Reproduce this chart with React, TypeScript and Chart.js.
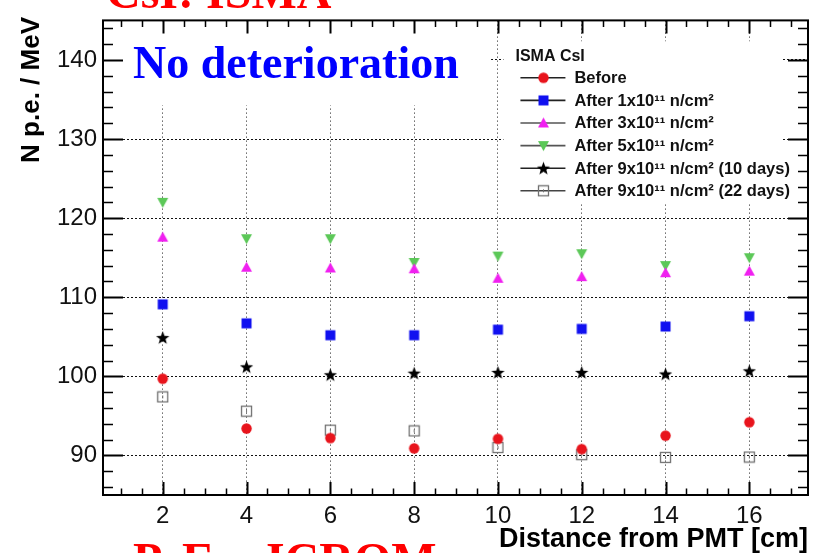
import React, { useEffect, useRef } from 'react';
import { Chart, registerables } from 'chart.js';

Chart.register(...registerables);

// ---- data ----
const distances = [2, 4, 6, 8, 10, 12, 14, 16];
const before = [99.7, 93.4, 92.2, 90.9, 92.1, 90.8, 92.5, 94.2];
const after1e11 = [109.1, 106.7, 105.2, 105.2, 105.9, 106.0, 106.3, 107.6];
const after3e11 = [117.6, 113.8, 113.7, 113.6, 112.4, 112.6, 113.1, 113.3];
const after5e11 = [122.0, 117.4, 117.4, 114.4, 115.2, 115.5, 114.0, 115.0];
const after9e11Day10 = [104.9, 101.2, 100.2, 100.4, 100.5, 100.5, 100.3, 100.7];
const after9e11Day22 = [97.4, 95.6, 93.2, 93.1, 91.0, 90.1, 89.75, 89.8];

const xTickValues = [2, 4, 6, 8, 10, 12, 14, 16];
const yTickValues = [90, 100, 110, 120, 130, 140];

const seriesLabels = [
  'Before',
  'After 1x10¹¹ n/cm²',
  'After 3x10¹¹ n/cm²',
  'After 5x10¹¹ n/cm²',
  'After 9x10¹¹ n/cm² (10 days)',
  'After 9x10¹¹ n/cm² (22 days)',
];
const seriesColors = ['#e8141c', '#1010f0', '#f020f0', '#5cc858', '#000000', '#707070'];
const seriesMarkers = ['circle', 'square', 'triangleUp', 'triangleDown', 'star', 'openSquare'];
const legendLineColors = ['#222222', '#222222', '#555555', '#555555', '#222222', '#444444'];

const legendTitle = 'ISMA CsI';
const xTitle = 'Distance from PMT [cm]';
const yTitle = 'N p.e. / MeV';
const noteText = 'No deterioration';
const topBanner = 'CsI: ISMA';
const bottomBanner = 'P. E. - ICROM';

const X_MIN = 0.574;
const X_MAX = 17.4;
const Y_MIN = 85;
const Y_MAX = 145;
const X_MAJOR = 2;
const X_MINOR = 0.5;
const Y_MAJOR = 10;
const Y_MINOR = 2;

const SANS = '"Liberation Sans", Arial, Helvetica, sans-serif';
const SERIF = '"Liberation Serif", "Times New Roman", serif';

function makeMarker(kind: string, color: string): HTMLCanvasElement {
  const size = kind === 'star' ? 15 : 13;
  const c = document.createElement('canvas');
  c.width = size;
  c.height = size;
  const ctx = c.getContext('2d')!;
  const cx = size / 2;
  const cy = size / 2;
  ctx.fillStyle = color;
  ctx.strokeStyle = color;
  ctx.beginPath();
  if (kind === 'circle') {
    ctx.arc(cx, cy, 5.2, 0, Math.PI * 2);
    ctx.fill();
  } else if (kind === 'square') {
    ctx.rect(cx - 5, cy - 5, 10, 10);
    ctx.fill();
  } else if (kind === 'triangleUp') {
    ctx.moveTo(cx, cy - 5.5);
    ctx.lineTo(cx + 5.5, cy + 4.5);
    ctx.lineTo(cx - 5.5, cy + 4.5);
    ctx.closePath();
    ctx.fill();
  } else if (kind === 'triangleDown') {
    ctx.moveTo(cx, cy + 5.5);
    ctx.lineTo(cx + 5.5, cy - 4.5);
    ctx.lineTo(cx - 5.5, cy - 4.5);
    ctx.closePath();
    ctx.fill();
  } else if (kind === 'star') {
    const R = 7;
    const r = R * 0.42;
    for (let i = 0; i < 10; i++) {
      const ang = -Math.PI / 2 + (i * Math.PI) / 5;
      const rad = i % 2 === 0 ? R : r;
      ctx.lineTo(cx + rad * Math.cos(ang), cy + 0.6 + rad * Math.sin(ang));
    }
    ctx.closePath();
    ctx.fill();
  } else if (kind === 'openSquare') {
    ctx.lineWidth = 1.3;
    ctx.strokeRect(cx - 5, cy - 5, 10, 10);
    ctx.beginPath();
    ctx.lineWidth = 1;
    ctx.moveTo(cx, cy - 1.5);
    ctx.lineTo(cx, cy + 1.5);
    ctx.stroke();
  }
  return c;
}

function legendBox(a: any) {
  return {
    x: a.left + (a.right - a.left) * 0.568,
    y: a.top + (a.bottom - a.top) * 0.044,
    w: (a.right - a.left) * 0.395,
    h: (a.bottom - a.top) * 0.34,
  };
}

const decorPlugin = {
  id: 'decor',
  beforeDatasetsDraw(chart: any) {
    const { ctx, chartArea: a, scales } = chart;
    const xs = scales.x;
    const ys = scales.y;
    ctx.save();
    ctx.fillStyle = '#ffffff';
    // white box behind the note text
    ctx.fillRect(a.left + 1, a.top + 1, (a.right - a.left) * 0.549, (a.bottom - a.top) * 0.177);
    // legend box
    const lb = legendBox(a);
    ctx.fillRect(lb.x, lb.y, lb.w, lb.h);

    // tick marks (inward, mirrored on all four sides)
    ctx.strokeStyle = '#000';
    const xMajLen = 13, xMinLen = 6.5, yMajLen = 20, yMinLen = 10;
    const first = Math.ceil(X_MIN / X_MINOR) * X_MINOR;
    for (let v = first; v <= X_MAX + 1e-9; v += X_MINOR) {
      const isMajor = Math.abs(v / X_MAJOR - Math.round(v / X_MAJOR)) < 1e-6;
      const len = isMajor ? xMajLen : xMinLen;
      const px = Math.round(xs.getPixelForValue(v)) + 0.5;
      ctx.lineWidth = isMajor ? 2 : 1.5;
      ctx.beginPath();
      ctx.moveTo(px, a.bottom);
      ctx.lineTo(px, a.bottom - len);
      ctx.moveTo(px, a.top);
      ctx.lineTo(px, a.top + len);
      ctx.stroke();
    }
    for (let v = Math.ceil(Y_MIN / Y_MINOR) * Y_MINOR; v <= Y_MAX + 1e-9; v += Y_MINOR) {
      const isMajor = Math.abs(v / Y_MAJOR - Math.round(v / Y_MAJOR)) < 1e-6;
      const len = isMajor ? yMajLen : yMinLen;
      const py = Math.round(ys.getPixelForValue(v)) + 0.5;
      ctx.lineWidth = isMajor ? 2 : 1.5;
      ctx.beginPath();
      ctx.moveTo(a.left, py);
      ctx.lineTo(a.left + len, py);
      ctx.moveTo(a.right, py);
      ctx.lineTo(a.right - len, py);
      ctx.stroke();
    }
    // frame
    ctx.lineWidth = 2;
    ctx.strokeRect(a.left, a.top, a.right - a.left, a.bottom - a.top);
    ctx.restore();
  },
  afterDatasetsDraw(chart: any) {
    const { ctx, chartArea: a } = chart;
    ctx.save();
    // legend content
    const lb = legendBox(a);
    const lx = lb.x;
    const ly = lb.y;
    ctx.fillStyle = '#111';
    ctx.textAlign = 'left';
    ctx.textBaseline = 'alphabetic';
    ctx.font = `bold 16px ${SANS}`;
    ctx.fillText(legendTitle, lx + 12, ly + 20);
    chart.data.datasets.forEach((ds: any, i: number) => {
      const base = ly + 42 + i * 22.6;
      const cy = base - 5.5;
      ctx.strokeStyle = legendLineColors[i];
      ctx.lineWidth = 1.6;
      ctx.beginPath();
      ctx.moveTo(lx + 17, cy);
      ctx.lineTo(lx + 62, cy);
      ctx.stroke();
      const img = ds.pointStyle as HTMLCanvasElement;
      ctx.drawImage(img, lx + 40 - img.width / 2, cy - img.height / 2);
      ctx.fillStyle = '#111';
      ctx.font = `bold 16.5px ${SANS}`;
      ctx.fillText(ds.label, lx + 71, base);
    });

    // note text
    ctx.fillStyle = '#0000ff';
    ctx.font = `bold 46px ${SERIF}`;
    ctx.fillText(noteText, 133, 78);

    // banners (cut off by the picture's edges)
    ctx.fillStyle = '#ff0000';
    ctx.font = `bold 48px ${SERIF}`;
    ctx.fillText(topBanner, 106, 8);
    ctx.fillText(bottomBanner, 133, 576);

    // axis titles
    ctx.fillStyle = '#000';
    ctx.font = `bold 27px ${SANS}`;
    ctx.textAlign = 'right';
    ctx.fillText(xTitle, 808, 547);
    ctx.save();
    ctx.translate(38.5, 17);
    ctx.rotate(-Math.PI / 2);
    ctx.font = `bold 26px ${SANS}`;
    ctx.textAlign = 'right';
    ctx.fillText(yTitle, 0, 0);
    ctx.restore();
    ctx.restore();
  },
};

export default function App() {
  const ref = useRef<HTMLCanvasElement>(null);
  useEffect(() => {
    const canvas = ref.current!;
    const seriesValues = [before, after1e11, after3e11, after5e11, after9e11Day10, after9e11Day22];
    const datasets = seriesValues.map((vals, i) => ({
      label: seriesLabels[i],
      data: distances.map((d, j) => ({ x: d, y: vals[j] })),
      pointStyle: makeMarker(seriesMarkers[i], seriesColors[i]),
      backgroundColor: seriesColors[i],
      borderColor: seriesColors[i],
      showLine: false,
    }));
    const chart = new Chart(canvas, {
      type: 'scatter',
      data: { datasets },
      options: {
        animation: false,
        responsive: false,
        devicePixelRatio: 1,
        layout: { padding: { left: 0, right: 2, top: 15, bottom: 0 } },
        plugins: {
          legend: { display: false },
          tooltip: { enabled: false },
          title: { display: false },
        },
        scales: {
          x: {
            type: 'linear',
            min: X_MIN,
            max: X_MAX,
            afterBuildTicks: (s: any) => {
              s.ticks = xTickValues.map((v) => ({ value: v }));
            },
            afterFit: (s: any) => {
              s.height = 58;
            },
            ticks: {
              autoSkip: false,
              maxRotation: 0,
              padding: 7,
              color: '#111',
              font: { family: SANS, size: 24 },
            },
            grid: { color: '#666', lineWidth: 1, drawTicks: false },
            border: { display: false, dash: [1.5, 2.5] },
          },
          y: {
            type: 'linear',
            min: Y_MIN,
            max: Y_MAX,
            afterBuildTicks: (s: any) => {
              s.ticks = yTickValues.map((v) => ({ value: v }));
            },
            afterFit: (s: any) => {
              s.width = 103;
            },
            ticks: {
              autoSkip: false,
              padding: 6,
              color: '#111',
              font: { family: SANS, size: 24 },
            },
            grid: { color: '#111', lineWidth: 1, drawTicks: false },
            border: { display: false, dash: [2, 2] },
          },
        },
      } as any,
      plugins: [decorPlugin],
    });
    return () => chart.destroy();
  }, []);
  return (
    <div
      style={{
        position: 'fixed',
        left: 0,
        top: 0,
        width: 813,
        height: 553,
        background: '#fff',
        overflow: 'hidden',
      }}
    >
      <canvas ref={ref} width={813} height={553} style={{ display: 'block' }} />
    </div>
  );
}
